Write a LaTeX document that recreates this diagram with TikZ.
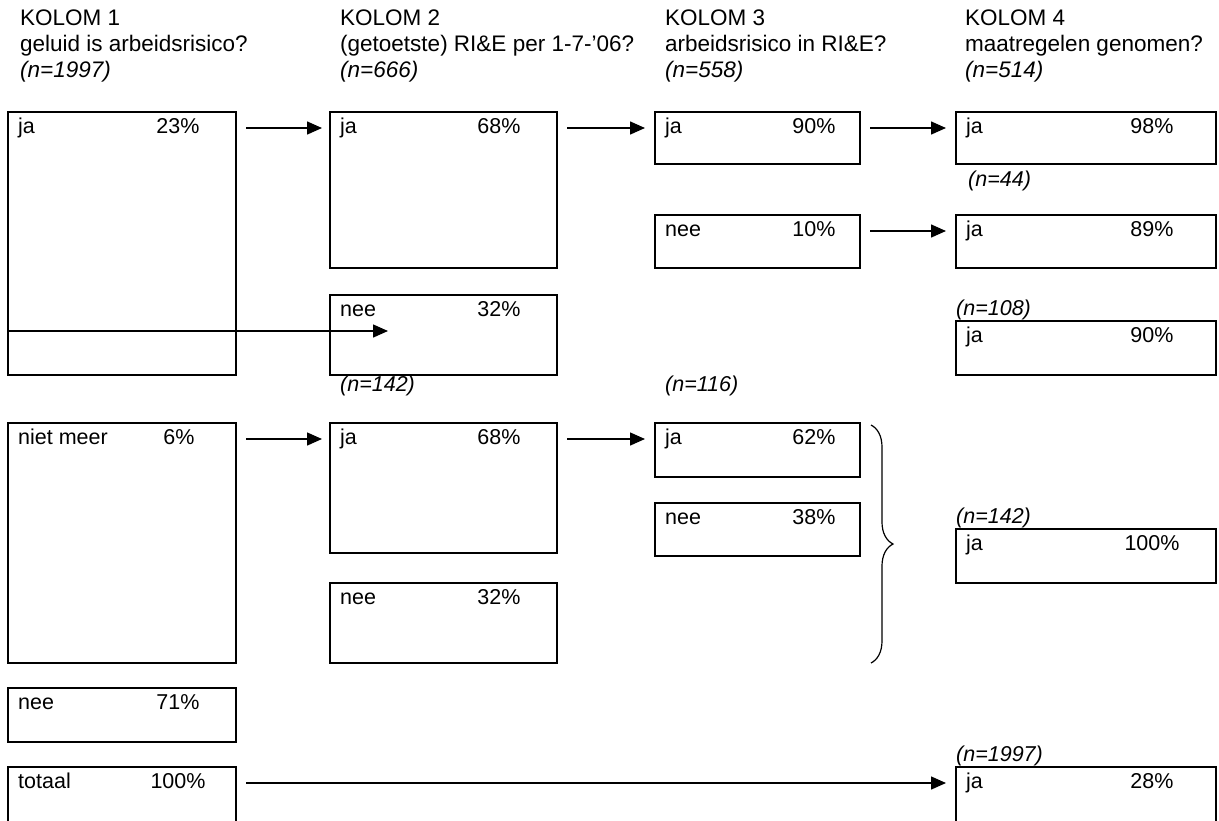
\documentclass[tikz,border=0pt]{standalone}
\usepackage{fontspec}
\setmainfont{Liberation Sans}
\usetikzlibrary{positioning, arrows.meta, decorations.pathreplacing}
\tikzset{
  vak/.style={draw, line width=1.9pt, anchor=north west, inner sep=0pt, outer sep=0pt},
  tekst/.style={inner sep=0pt, font=\fontsize{21.5}{26}\selectfont},
  kop/.style={inner sep=0pt, anchor=north west, align=left, font=\fontsize{22.5}{26}\selectfont},
  aantal/.style={tekst, font=\fontsize{21.5}{26}\selectfont\itshape},
  pijl/.style={-{Triangle[length=15pt,width=13pt]}, line width=1.5pt},
  accolade/.style={decorate, decoration={brace, amplitude=22pt}, line width=1.2pt}
}

\begin{document}
\begin{tikzpicture}[x=1pt, y=-1pt]
    \useasboundingbox (0,0) rectangle (1219,820);

    % kopjes
    \node[kop] (kop1) at (20,10) {KOLOM 1\\geluid is arbeidsrisico?\\\textit{(n=1997)}};
    \node[kop] (kop2) at (340,10) {KOLOM 2\\(getoetste) RI\&E per 1-7-'06?\\\textit{(n=666)}};
    \node[kop] (kop3) at (665,10) {KOLOM 3\\arbeidsrisico in RI\&E?\\\textit{(n=558)}};
    \node[kop] (kop4) at (965,10) {KOLOM 4\\maatregelen genomen?\\\textit{(n=514)}};

    % kolom 1
    \node[vak, minimum width=228, minimum height=263] (k1a) at (8,112) {};
    \node[vak, minimum width=228, minimum height=240] (k1b) at (8,423) {};
    \node[vak, minimum width=228, minimum height=54] (k1c) at (8,688) {};
    \node[vak, minimum width=228, minimum height=58] (k1d) at (8,767) {};
    \node[tekst, anchor=base west] (k1a-t) at ([shift={(10,21)}]k1a.north west) {ja};
    \node[tekst, anchor=base] (k1a-p) at ([shift={(170,21)}]k1a.north west) {23\%};
    \node[tekst, anchor=base west] (k1b-t) at ([shift={(10,21)}]k1b.north west) {niet meer};
    \node[tekst, anchor=base] (k1b-p) at ([shift={(171,21)}]k1b.north west) {6\%};
    \node[tekst, anchor=base west] (k1c-t) at ([shift={(10,21)}]k1c.north west) {nee};
    \node[tekst, anchor=base] (k1c-p) at ([shift={(170,21)}]k1c.north west) {71\%};
    \node[tekst, anchor=base west] (k1d-t) at ([shift={(10,21)}]k1d.north west) {totaal};
    \node[tekst, anchor=base] (k1d-p) at ([shift={(170,21)}]k1d.north west) {100\%};

    % kolom 2
    \node[vak, minimum width=227, minimum height=156] (k2a) at (330,112) {};
    \node[vak, minimum width=227, minimum height=80] (k2b) at (330,295) {};
    \node[vak, minimum width=227, minimum height=130] (k2c) at (330,423) {};
    \node[vak, minimum width=227, minimum height=80] (k2d) at (330,583) {};
    \node[tekst, anchor=base west] (k2a-t) at ([shift={(10,21)}]k2a.north west) {ja};
    \node[tekst, anchor=base] (k2a-p) at ([shift={(169,21)}]k2a.north west) {68\%};
    \node[tekst, anchor=base west] (k2b-t) at ([shift={(10,21)}]k2b.north west) {nee};
    \node[tekst, anchor=base] (k2b-p) at ([shift={(169,21)}]k2b.north west) {32\%};
    \node[tekst, anchor=base west] (k2c-t) at ([shift={(10,21)}]k2c.north west) {ja};
    \node[tekst, anchor=base] (k2c-p) at ([shift={(169,21)}]k2c.north west) {68\%};
    \node[tekst, anchor=base west] (k2d-t) at ([shift={(10,21)}]k2d.north west) {nee};
    \node[tekst, anchor=base] (k2d-p) at ([shift={(169,21)}]k2d.north west) {32\%};
    \node[aantal, anchor=base west] (n142a) at (340,391) {(n=142)};

    % kolom 3
    \node[vak, minimum width=205, minimum height=52] (k3a) at (655,112) {};
    \node[vak, minimum width=205, minimum height=53] (k3b) at (655,215) {};
    \node[vak, minimum width=205, minimum height=54] (k3c) at (655,423) {};
    \node[vak, minimum width=205, minimum height=53] (k3d) at (655,503) {};
    \node[tekst, anchor=base west] (k3a-t) at ([shift={(10,21)}]k3a.north west) {ja};
    \node[tekst, anchor=base] (k3a-p) at ([shift={(159,21)}]k3a.north west) {90\%};
    \node[tekst, anchor=base west] (k3b-t) at ([shift={(10,21)}]k3b.north west) {nee};
    \node[tekst, anchor=base] (k3b-p) at ([shift={(159,21)}]k3b.north west) {10\%};
    \node[tekst, anchor=base west] (k3c-t) at ([shift={(10,21)}]k3c.north west) {ja};
    \node[tekst, anchor=base] (k3c-p) at ([shift={(159,21)}]k3c.north west) {62\%};
    \node[tekst, anchor=base west] (k3d-t) at ([shift={(10,21)}]k3d.north west) {nee};
    \node[tekst, anchor=base] (k3d-p) at ([shift={(159,21)}]k3d.north west) {38\%};
    \node[aantal, anchor=base west] (n116) at (665,391) {(n=116)};

    % kolom 4
    \node[vak, minimum width=260, minimum height=52] (k4a) at (956,112) {};
    \node[vak, minimum width=260, minimum height=53] (k4b) at (956,215) {};
    \node[vak, minimum width=260, minimum height=54] (k4c) at (956,321) {};
    \node[vak, minimum width=260, minimum height=54] (k4d) at (956,529) {};
    \node[vak, minimum width=260, minimum height=58] (k4e) at (956,767) {};
    \node[tekst, anchor=base west] (k4a-t) at ([shift={(10,21)}]k4a.north west) {ja};
    \node[tekst, anchor=base] (k4a-p) at ([shift={(196,21)}]k4a.north west) {98\%};
    \node[tekst, anchor=base west] (k4b-t) at ([shift={(10,21)}]k4b.north west) {ja};
    \node[tekst, anchor=base] (k4b-p) at ([shift={(196,21)}]k4b.north west) {89\%};
    \node[tekst, anchor=base west] (k4c-t) at ([shift={(10,21)}]k4c.north west) {ja};
    \node[tekst, anchor=base] (k4c-p) at ([shift={(196,21)}]k4c.north west) {90\%};
    \node[tekst, anchor=base west] (k4d-t) at ([shift={(10,21)}]k4d.north west) {ja};
    \node[tekst, anchor=base] (k4d-p) at ([shift={(196,21)}]k4d.north west) {100\%};
    \node[tekst, anchor=base west] (k4e-t) at ([shift={(10,21)}]k4e.north west) {ja};
    \node[tekst, anchor=base] (k4e-p) at ([shift={(196,21)}]k4e.north west) {28\%};
    \node[aantal, anchor=base west] (n44) at ([shift={(12,22)}]k4a.south west) {(n=44)};
    \node[aantal, anchor=south west, inner ysep=1pt] (n108) at (k4c.north west) {(n=108)};
    \node[aantal, anchor=south west, inner ysep=1pt] (n142b) at (k4d.north west) {(n=142)};
    \node[aantal, anchor=south west, inner ysep=1pt] (n1997) at (k4e.north west) {(n=1997)};

    % pijlen
    \coordinate (neeEind) at (388,331);
    \draw[pijl] ([shift={(10,16)}]k1a.north east) -- ([shift={(-8,16)}]k2a.north west);
    \draw[pijl] ([shift={(10,16)}]k2a.north east) -- ([shift={(-10,16)}]k3a.north west);
    \draw[pijl] ([shift={(10,16)}]k3a.north east) -- ([shift={(-10,16)}]k4a.north west);
    \draw[pijl] ([shift={(10,16)}]k3b.north east) -- ([shift={(-10,16)}]k4b.north west);
    \draw[pijl] (k1a.west |- neeEind) -- (neeEind);
    \draw[pijl] ([shift={(10,16)}]k1b.north east) -- ([shift={(-8,16)}]k2c.north west);
    \draw[pijl] ([shift={(10,16)}]k2c.north east) -- ([shift={(-10,16)}]k3c.north west);
    \draw[pijl] ([shift={(10,16)}]k1d.north east) -- ([shift={(-10,16)}]k4e.north west);

    % accolade
    \draw[accolade] (871,425) -- (871,663);
\end{tikzpicture}
\end{document}
